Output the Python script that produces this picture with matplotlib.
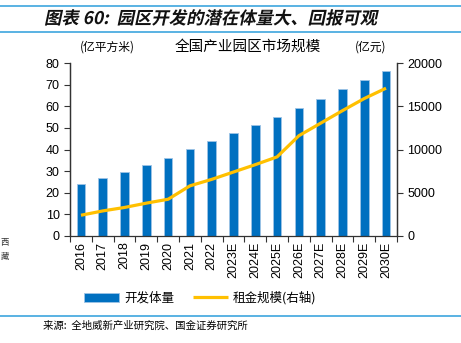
import matplotlib.pyplot as plt
from matplotlib.lines import Line2D
from matplotlib.textpath import TextPath
from matplotlib.patches import PathPatch
from matplotlib.font_manager import FontProperties
from matplotlib.transforms import Affine2D
import numpy as np

plt.rcParams['font.family'] = ['Noto Sans CJK SC', 'DejaVu Sans']

years = ['2016', '2017', '2018', '2019', '2020', '2021', '2022', '2023E',
         '2024E', '2025E', '2026E', '2027E', '2028E', '2029E', '2030E']
area = [24.0, 26.8, 29.4, 32.9, 36.3, 40.2, 44.1, 47.5, 51.2, 55.2,
        59.3, 63.6, 67.8, 72.2, 76.3]
rent = [2400, 2900, 3300, 3800, 4250, 5800, 6550, 7400, 8250, 9150,
        11600, 13050, 14500, 15900, 17100]

blue = '#0070C0'
gold = '#FFC000'
rule = '#3DA5DE'
num_font = 'Liberation Sans'

fig = plt.figure(figsize=(4.61, 3.43), dpi=100)
ax = fig.add_axes([0.152, 0.312, 0.709, 0.504])
ax2 = ax.twinx()

x = np.arange(len(years))
ax.bar(x, area, width=0.4, color=blue, edgecolor='#9DC3E6', linewidth=0.6,
       label='开发体量', zorder=2)
ax2.plot(x, rent, color=gold, linewidth=2.3, label='租金规模(右轴)',
         solid_capstyle='butt')

ax.set_xlim(-0.5, len(years) - 0.5)
ax.set_ylim(0, 80)
ax.set_yticks(range(0, 81, 10))
ax2.set_ylim(0, 20000)
ax2.set_yticks(range(0, 20001, 5000))

ax.set_xticks(np.arange(len(years) + 1) - 0.5)
ax.set_xticklabels([])
ax.set_xticks(x, minor=True)
ax.set_xticklabels(years, minor=True, rotation=90, fontsize=9,
                   family=num_font)
ax.tick_params(axis='x', which='major', direction='out', length=4,
               color='#333333')
ax.tick_params(axis='x', which='minor', length=0, pad=4)
ax.tick_params(axis='y', direction='out', length=4, labelsize=9,
               color='#333333')
ax2.tick_params(axis='y', direction='out', length=4, labelsize=9,
                color='#333333')
for lab in ax.get_yticklabels() + ax2.get_yticklabels():
    lab.set_family(num_font)

for a in (ax, ax2):
    a.spines['top'].set_visible(False)
    for s in ('left', 'right', 'bottom'):
        a.spines[s].set_color('#333333')
        a.spines[s].set_linewidth(0.9)
ax2.spines['bottom'].set_visible(False)
ax2.set_zorder(ax.get_zorder() + 1)
ax2.patch.set_visible(False)

# titles and units
fig.text(248 / 461, 1 - 47 / 343, '全国产业园区市场规模', ha='center',
         va='center', fontsize=10.5)
fig.text(107 / 461, 1 - 47 / 343, '(亿平方米)', ha='center', va='center',
         fontsize=8.5)
fig.text(371 / 461, 1 - 47 / 343, '(亿元)', ha='center', va='center',
         fontsize=8.5)

# legend
h1, l1 = ax.get_legend_handles_labels()
h2, l2 = ax2.get_legend_handles_labels()
fig.legend(h1 + h2, l1 + l2, loc='center', bbox_to_anchor=(200 / 461, 1 - 298 / 343),
           ncol=2, frameon=False, fontsize=9, handlelength=2.8,
           handletextpad=0.4, columnspacing=1.5)

# header / footer
fig.add_artist(Line2D([0, 1], [1 - 6 / 343] * 2, color=rule, linewidth=1.2))
fig.add_artist(Line2D([0, 1], [1 - 32 / 343] * 2, color=rule, linewidth=1.2))
fig.add_artist(Line2D([0, 1], [1 - 316 / 343] * 2, color=rule, linewidth=1.2))

# slanted header text (the CJK font has no italic face)
title_fp = FontProperties(family='Noto Sans CJK SC', weight='bold')
tp = TextPath((0, 0), '图表 60:  园区开发的潜在体量大、回报可观', size=12.5,
              prop=title_fp)
tr = (Affine2D().skew_deg(12, 0).scale(1 / 72)
      .translate(44 / 100, (343 - 24) / 100) + fig.dpi_scale_trans)
fig.add_artist(PathPatch(tp, transform=tr, color='#111111', lw=0))

fig.text(43 / 461, 1 - 326 / 343, '来源:  全地威新产业研究院、国金证券研究所',
         ha='left', va='center', fontsize=7.5)

# fragments of neighbouring page content at the left edge
fig.text(0.002, 1 - 243 / 343, '西', ha='left', va='center', fontsize=6,
         color='#333333')
fig.text(0.002, 1 - 256 / 343, '藏', ha='left', va='center', fontsize=6,
         color='#333333')

fig.savefig('out.png', dpi=100)
